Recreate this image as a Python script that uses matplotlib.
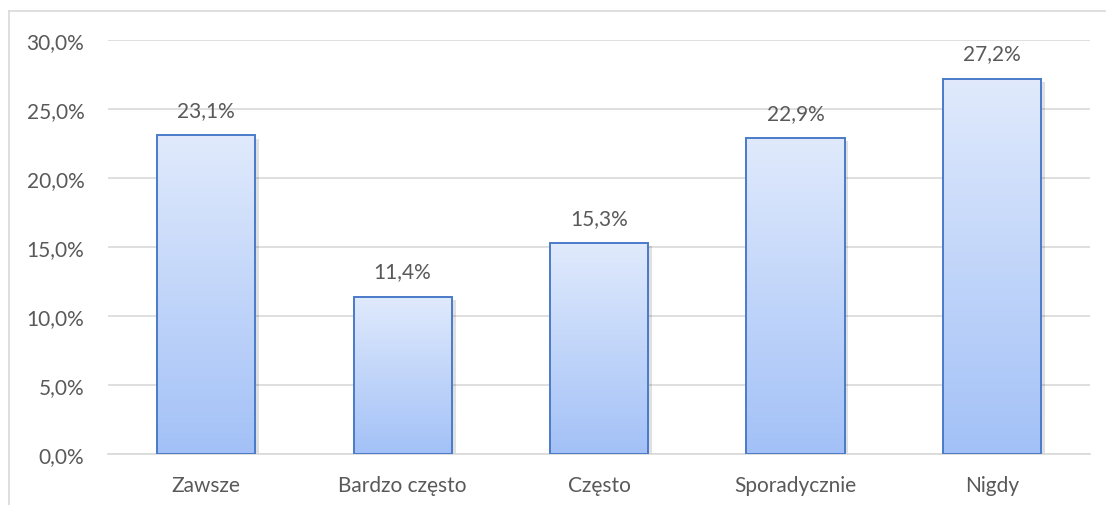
import numpy as np
import matplotlib
matplotlib.use("Agg")
import matplotlib.pyplot as plt
from matplotlib.patches import Rectangle
from matplotlib.lines import Line2D
from matplotlib.colors import LinearSegmentedColormap

categories = ["Zawsze", "Bardzo często", "Często", "Sporadycznie", "Nigdy"]
values = [23.1, 11.4, 15.3, 22.9, 27.2]
yticks = [0, 5, 10, 15, 20, 25, 30]

plt.rcParams['font.family'] = ['Lato', 'DejaVu Sans']
text_col = "#595959"
grid_col = "#D9D9D9"
fs = 15

fig = plt.figure(figsize=(11.06, 5.06), dpi=100)
ax = fig.add_axes([108 / 1106, 51 / 506, 982 / 1106, 414 / 506])

# chart border (left and top visible)
fig.add_artist(Line2D([9 / 1106, 9 / 1106], [0, 494 / 506], color=grid_col, lw=1.2))
fig.add_artist(Line2D([9 / 1106, 1], [494 / 506, 494 / 506], color=grid_col, lw=1.2))

grad = LinearSegmentedColormap.from_list("g", ["#A3C1F7", "#E0EAFC"])
x = np.arange(len(categories))
w = 0.5
for xi, v in zip(x, values):
    ax.imshow(np.linspace(0, 1, 256).reshape(-1, 1), cmap=grad, origin="lower",
              extent=[xi - w / 2, xi + w / 2, 0, v], aspect="auto", zorder=3)
    ax.add_patch(Rectangle((xi - w / 2 + 0.02, -0.25), w, v, facecolor="#000000",
                           alpha=0.12, lw=0, zorder=2))
    ax.add_patch(Rectangle((xi - w / 2, 0), w, v, fill=False, edgecolor="#4A7BC8",
                           lw=1.4, zorder=4))
    ax.text(xi, v + 1.1, f"{v:.1f}%".replace(".", ","), ha="center", va="bottom",
            fontsize=fs, color=text_col)

ax.set_xlim(-0.5, len(categories) - 0.5)
ax.set_ylim(0, 30)
ax.set_yticks(yticks)
ax.set_yticklabels([f"{t:.1f}%".replace(".", ",") for t in yticks])
ax.set_xticks(x)
ax.set_xticklabels(categories)
ax.tick_params(axis="both", length=0, labelsize=fs, labelcolor=text_col)
ax.tick_params(axis="y", pad=17)
ax.tick_params(axis="x", pad=15)
ax.grid(axis="y", color=grid_col, lw=1.2, zorder=0)
ax.set_axisbelow(True)
for s in ["top", "right", "left"]:
    ax.spines[s].set_visible(False)
ax.spines["bottom"].set_color(grid_col)
ax.spines["bottom"].set_linewidth(1.2)

fig.savefig("out.png", dpi=100)
